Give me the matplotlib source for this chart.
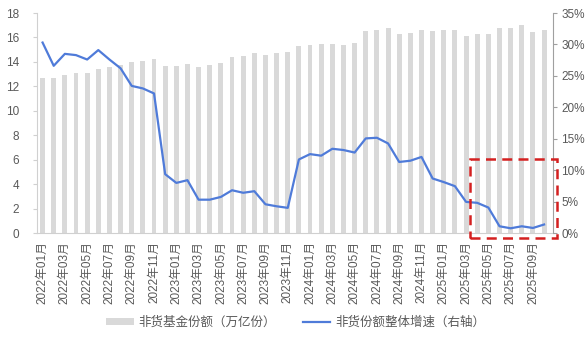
import numpy as np
import matplotlib
matplotlib.use("Agg")
import matplotlib.pyplot as plt
from matplotlib.patches import Rectangle

plt.rcParams['font.family'] = ['Liberation Sans', 'Noto Sans CJK SC', 'DejaVu Sans']

# monthly 2022-01 .. 2025-10
months = ["%d年%02d月" % (2022 + i // 12, i % 12 + 1) for i in range(46)]

shares = [12.67, 12.7, 12.9, 13.1, 13.1, 13.45, 13.6, 13.75, 14.0, 14.1, 14.25,
          13.65, 13.7, 13.8, 13.6, 13.75, 13.9, 14.4, 14.5, 14.7, 14.6, 14.75, 14.85,
          15.26, 15.4, 15.45, 15.45, 15.4, 15.56, 16.52, 16.65, 16.77, 16.27, 16.38,
          16.6, 16.55, 16.63, 16.63, 16.11, 16.27, 16.27, 16.74, 16.77, 16.98, 16.44, 16.63]

growth = [30.3, 26.6, 28.5, 28.3, 27.6, 29.1, 27.6, 26.2, 23.4, 23.0, 22.2,
          9.36, 7.97, 8.4, 5.3, 5.3, 5.74, 6.8, 6.4, 6.65, 4.57, 4.25, 4.0,
          11.7, 12.55, 12.3, 13.4, 13.2, 12.8, 15.05, 15.15, 14.25, 11.3, 11.5,
          12.1, 8.67, 8.1, 7.45, 4.95, 4.8, 4.05, 1.07, 0.75, 1.07, 0.8, 1.35]

bar_label = "非货基金份额（万亿份）"
line_label = "非货份额整体增速（右轴）"

txt_c = "#595959"
spine_c = "#d0d0d0"

fig = plt.figure(figsize=(5.85, 3.39), dpi=100)
ax = fig.add_axes([37/585, 1-233/339, (553-37)/585, 220/339])
ax2 = ax.twinx()

x = np.arange(len(months))
b = ax.bar(x, shares, width=0.44, color="#d9d9d9", label=bar_label, zorder=1)
ln, = ax2.plot(x, growth, color="#4f7bd9", lw=1.6, label=line_label, zorder=3)

ax.set_xlim(-0.5, 45.8)
ax.set_ylim(0, 18)
ax.set_yticks(range(0, 19, 2))
ax2.set_ylim(0, 35)
ax2.set_yticks(range(0, 36, 5))
ax2.set_yticklabels(["%d%%" % v for v in range(0, 36, 5)])

ax.set_xticks(x[::2])
ax.set_xticklabels(months[::2], rotation=90, fontsize=8.5, color=txt_c,
                   family=['Liberation Sans', 'Noto Sans CJK SC'])
ax.tick_params(axis='x', length=0, pad=6)
ax.tick_params(axis='y', labelsize=8.5, colors=txt_c, length=3, color=spine_c, pad=10)
ax2.tick_params(axis='y', labelsize=8.5, colors=txt_c, length=3, color="#a0a0a0", pad=3)

for a in (ax, ax2):
    a.spines['top'].set_visible(False)
    a.spines['left'].set_color(spine_c)
    a.spines['bottom'].set_color(spine_c)
    a.spines['right'].set_color("#a0a0a0")
    a.spines['left'].set_linewidth(0.8)
    a.spines['right'].set_linewidth(0.8)
ax2.spines['left'].set_visible(False)
ax2.spines['bottom'].set_visible(False)
ax.spines['right'].set_visible(False)

# red dashed highlight box (2025-03 onward)
rect = Rectangle((38.35, -0.75), 7.85, 12.45, transform=ax2.transData, fill=False,
                 edgecolor="#d42020", lw=1.8, ls=(0, (4, 2.5)), clip_on=False, zorder=5)
ax2.add_patch(rect)

leg = fig.legend([b, ln], [bar_label, line_label], loc='center', bbox_to_anchor=(0.505, 1-322/339),
                 ncol=2, frameon=False, handlelength=2.2, handleheight=0.5,
                 columnspacing=2.2, handletextpad=0.35,
                 prop={'family': ['Noto Sans CJK SC'], 'size': 9})
for t in leg.get_texts():
    t.set_color(txt_c)

fig.savefig("out.png", dpi=100)
